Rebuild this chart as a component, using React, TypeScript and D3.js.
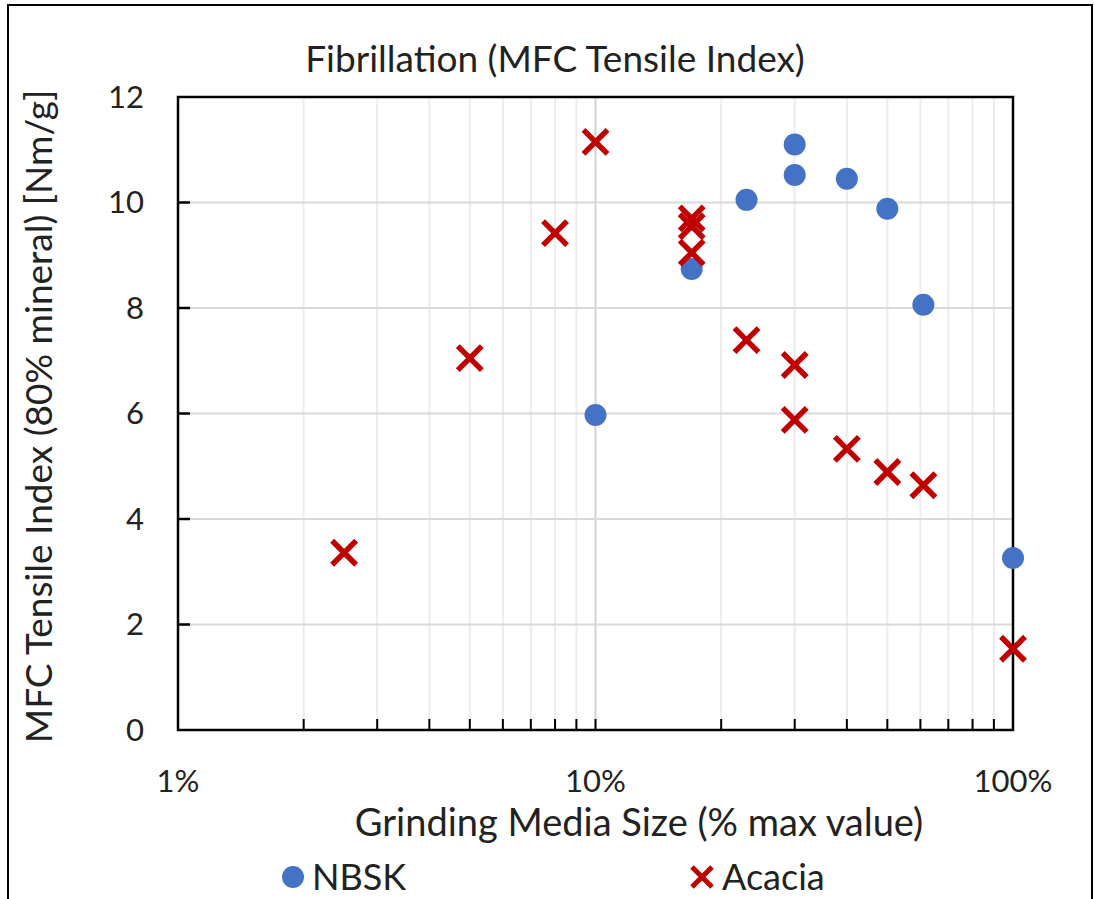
import { useRef, useEffect } from 'react';
import * as d3 from 'd3';

// values (x in % of max value)
const nbskX = [10, 17, 23, 30, 30, 40, 50, 61, 100];
const nbskY = [5.97, 8.74, 10.05, 11.1, 10.52, 10.45, 9.88, 8.06, 3.26];

const acaciaX = [2.5, 5, 8, 10, 17, 17, 17, 23, 30, 30, 40, 50, 61, 100];
const acaciaY = [3.36, 7.05, 9.42, 11.15, 9.7, 9.55, 9.05, 7.39, 6.92, 5.88, 5.33, 4.89, 4.64, 1.54];

const yTicks = [0, 2, 4, 6, 8, 10, 12];
const xMajor = [1, 10, 100];
const xMinor = [2, 3, 4, 5, 6, 7, 8, 9, 20, 30, 40, 50, 60, 70, 80, 90];

const FONT = 'Lato, "Open Sans", sans-serif';

export default function App() {
  const svgRef = useRef(null);

  useEffect(() => {
    const svg = d3.select(svgRef.current);
    svg.selectAll('*').remove();

    const width = 1095;
    const height = 899;
    const margin = { top: 97, right: 82, bottom: 169, left: 178 };

    const x = d3.scaleLog()
      .domain([1, 100])
      .range([margin.left, width - margin.right]);

    const y = d3.scaleLinear()
      .domain([0, 12])
      .range([height - margin.bottom, margin.top]);

    const x0 = x.range()[0], x1 = x.range()[1];
    const y0 = y.range()[0], y1 = y.range()[1];

    // outer border
    svg.append('rect')
      .attr('x', 8).attr('y', 5)
      .attr('width', 1084).attr('height', 900)
      .attr('fill', 'white')
      .attr('stroke', 'black')
      .attr('stroke-width', 2);

    // vertical grid
    svg.append('g')
      .selectAll('line')
      .data(xMinor.concat([10]))
      .join('line')
      .attr('x1', d => x(d)).attr('x2', d => x(d))
      .attr('y1', y1).attr('y2', y0)
      .attr('stroke', d => (d === 10 ? '#d4d4d4' : '#ececec'))
      .attr('stroke-width', 2);

    // horizontal grid
    svg.append('g')
      .selectAll('line')
      .data(yTicks.slice(1, -1))
      .join('line')
      .attr('x1', x0).attr('x2', x1)
      .attr('y1', d => y(d)).attr('y2', d => y(d))
      .attr('stroke', '#d9d9d9')
      .attr('stroke-width', 2);

    // frame
    svg.append('rect')
      .attr('x', x0).attr('y', y1)
      .attr('width', x1 - x0).attr('height', y0 - y1)
      .attr('fill', 'none')
      .attr('stroke', 'black')
      .attr('stroke-width', 2.5);

    // x ticks (inside)
    svg.append('g')
      .selectAll('line')
      .data(xMinor.concat([10]))
      .join('line')
      .attr('x1', d => x(d)).attr('x2', d => x(d))
      .attr('y1', y0).attr('y2', y0 - 11)
      .attr('stroke', 'black')
      .attr('stroke-width', 2);

    // y ticks (inside)
    svg.append('g')
      .selectAll('line')
      .data(yTicks.slice(1, -1))
      .join('line')
      .attr('x1', x0).attr('x2', x0 + 12)
      .attr('y1', d => y(d)).attr('y2', d => y(d))
      .attr('stroke', 'black')
      .attr('stroke-width', 2.5);

    // y tick labels
    svg.append('g')
      .selectAll('text')
      .data(yTicks)
      .join('text')
      .attr('x', x0 - 34)
      .attr('y', d => y(d))
      .attr('dy', '0.35em')
      .attr('text-anchor', 'end')
      .attr('font-family', FONT)
      .attr('font-size', 31)
      .attr('fill', '#222')
      .text(d => d);

    // x tick labels
    svg.append('g')
      .selectAll('text')
      .data(xMajor)
      .join('text')
      .attr('x', d => x(d))
      .attr('y', 792)
      .attr('text-anchor', 'middle')
      .attr('font-family', FONT)
      .attr('font-size', 31)
      .attr('fill', '#222')
      .text(d => `${d}%`);

    // title
    svg.append('text')
      .attr('x', 555).attr('y', 72)
      .attr('text-anchor', 'middle')
      .attr('font-family', FONT)
      .attr('font-size', 37)
      .attr('fill', '#222')
      .text('Fibrillation (MFC Tensile Index)');

    // x axis title
    svg.append('text')
      .attr('x', 639).attr('y', 836)
      .attr('text-anchor', 'middle')
      .attr('font-family', FONT)
      .attr('font-size', 38)
      .attr('fill', '#222')
      .text('Grinding Media Size (% max value)');

    // y axis title
    svg.append('text')
      .attr('transform', `translate(52,${(y0 + y1) / 2 + 3}) rotate(-90)`)
      .attr('text-anchor', 'middle')
      .attr('font-family', FONT)
      .attr('font-size', 37)
      .attr('fill', '#222')
      .text('MFC Tensile Index (80% mineral) [Nm/g]');

    const blue = '#4472c4';
    const red = '#c00000';
    const xShape = (s: number) => `M${-s},${-s}L${s},${s}M${-s},${s}L${s},${-s}`;

    // NBSK
    svg.append('g')
      .selectAll('circle')
      .data(nbskX.map((v, i) => [v, nbskY[i]]))
      .join('circle')
      .attr('cx', d => x(d[0]))
      .attr('cy', d => y(d[1]))
      .attr('r', 11)
      .attr('fill', blue);

    // Acacia
    svg.append('g')
      .selectAll('path')
      .data(acaciaX.map((v, i) => [v, acaciaY[i]]))
      .join('path')
      .attr('transform', d => `translate(${x(d[0])},${y(d[1])})`)
      .attr('d', xShape(12))
      .attr('fill', 'none')
      .attr('stroke', red)
      .attr('stroke-width', 5.5);

    // legend
    svg.append('circle')
      .attr('cx', 293).attr('cy', 877).attr('r', 11).attr('fill', blue);
    svg.append('text')
      .attr('x', 312).attr('y', 877).attr('dy', '0.35em')
      .attr('font-family', FONT).attr('font-size', 36).attr('fill', '#222')
      .text('NBSK');
    svg.append('path')
      .attr('transform', 'translate(702,877)')
      .attr('d', xShape(10))
      .attr('fill', 'none').attr('stroke', red).attr('stroke-width', 5);
    svg.append('text')
      .attr('x', 722).attr('y', 877).attr('dy', '0.35em')
      .attr('font-family', FONT).attr('font-size', 36).attr('fill', '#222')
      .text('Acacia');
  }, []);

  return (
    <svg
      ref={svgRef}
      width={1095}
      height={899}
      style={{ position: 'absolute', left: 0, top: 0, background: 'white' }}
    ></svg>
  );
}
